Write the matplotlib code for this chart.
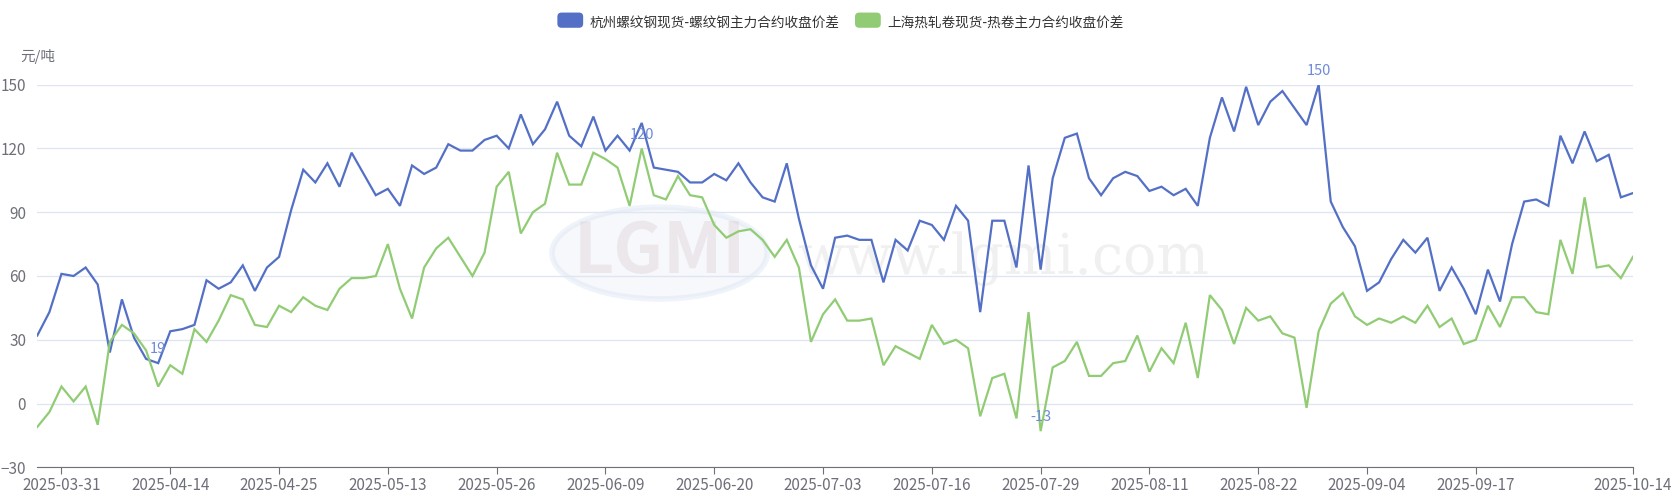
import numpy as np
import pandas as pd
import matplotlib
matplotlib.use("Agg")
import matplotlib.pyplot as plt
from matplotlib.patches import Patch, Ellipse, FancyBboxPatch
from matplotlib.legend_handler import HandlerPatch

plt.rcParams['font.family'] = ['Noto Sans CJK SC', 'DejaVu Sans']

# trading calendar (China, 2025)
holidays = ["2025-04-04", "2025-05-01", "2025-05-02", "2025-05-05", "2025-06-02",
            "2025-10-01", "2025-10-02", "2025-10-03", "2025-10-06", "2025-10-07", "2025-10-08"]
days = pd.bdate_range("2025-03-27", "2025-10-14")
days = days[~days.isin(pd.to_datetime(holidays))]
dates = [d.strftime("%Y-%m-%d") for d in days]

rebar = [32, 43, 61, 60, 64, 56, 24, 49, 31, 21, 19, 34, 35, 37, 58, 54, 57, 65, 53, 64,
         69, 91, 110, 104, 113, 102, 118, 108, 98, 101, 93, 112, 108, 111, 122, 119, 119, 124, 126, 120,
         136, 122, 129, 142, 126, 121, 135, 119, 126, 119, 132, 111, 110, 109, 104, 104, 108, 105, 113, 104,
         97, 95, 113, 87, 65, 54, 78, 79, 77, 77, 57, 77, 72, 86, 84, 77, 93, 86, 43, 86,
         86, 64, 112, 63, 106, 125, 127, 106, 98, 106, 109, 107, 100, 102, 98, 101, 93, 125, 144, 128,
         149, 131, 142, 147, 139, 131, 150, 95, 83, 74, 53, 57, 68, 77, 71, 78, 53, 64, 54, 42,
         63, 48, 75, 95, 96, 93, 126, 113, 128, 114, 117, 97, 99]

hrc = [-11, -4, 8, 1, 8, -10, 29, 37, 33, 25, 8, 18, 14, 35, 29, 39, 51, 49, 37, 36,
       46, 43, 50, 46, 44, 54, 59, 59, 60, 75, 54, 40, 64, 73, 78, 69, 60, 71, 102, 109,
       80, 90, 94, 118, 103, 103, 118, 115, 111, 93, 120, 98, 96, 107, 98, 97, 84, 78, 81, 82,
       77, 69, 77, 64, 29, 42, 49, 39, 39, 40, 18, 27, 24, 21, 37, 28, 30, 26, -6, 12,
       14, -7, 43, -13, 17, 20, 29, 13, 13, 19, 20, 32, 15, 26, 19, 38, 12, 51, 44, 28,
       45, 39, 41, 33, 31, -2, 34, 47, 52, 41, 37, 40, 38, 41, 38, 46, 36, 40, 28, 30,
       46, 36, 50, 50, 43, 42, 77, 61, 97, 64, 65, 59, 69]

names = ["杭州螺纹钢现货-螺纹钢主力合约收盘价差", "上海热轧卷现货-热卷主力合约收盘价差"]
colors = ["#5470c6", "#91cc75"]
label_color = "#6f8bd8"
axis_color = "#6e7079"


class RoundBox(HandlerPatch):
    def create_artists(self, legend, orig, xd, yd, width, height, fontsize, trans):
        h = height * 1.25
        p = FancyBboxPatch((xd + 1, yd - (h - height) / 2), width - 2, h,
                           boxstyle="round,pad=0,rounding_size=3",
                           facecolor=orig.get_facecolor(), edgecolor="none", transform=trans)
        return [p]


x = np.arange(len(dates))

fig = plt.figure(figsize=(16.8, 5.04), dpi=100)
ax = fig.add_axes([0.0222, 0.0728, 0.9498, 0.7592])

# faint watermark
ax.add_patch(Ellipse((0.39, 0.56), 0.135, 0.24, transform=ax.transAxes,
                     facecolor="#e6ecf6", edgecolor="#d3def1", lw=4, alpha=0.35, zorder=0))
ax.text(0.39, 0.56, "LGMI", transform=ax.transAxes, ha="center", va="center",
        fontsize=50, color="#d0b8b8", alpha=0.25, fontweight="bold", zorder=0)
ax.text(0.605, 0.545, "www.lgmi.com", transform=ax.transAxes, ha="center", va="center",
        fontsize=40, color="#cccccc", alpha=0.28, family="DejaVu Serif", zorder=0)

for ys, c in zip([rebar, hrc], colors):
    ax.plot(x, ys, color=c, lw=1.6, zorder=3, solid_joinstyle="miter")

# max / min labels
for ys, fn in [(rebar, np.argmax), (rebar, np.argmin), (hrc, np.argmax), (hrc, np.argmin)]:
    i = int(fn(ys))
    ax.annotate(str(ys[i]), (x[i], ys[i]), xytext=(0, 5), textcoords="offset points",
                ha="center", va="bottom", fontsize=10.5, color=label_color, zorder=4)

ax.set_xlim(0, len(dates) - 1)
ax.set_ylim(-30, 150)
ax.set_yticks(range(-30, 151, 30))
ticks = list(range(2, len(dates) - 9, 9)) + [len(dates) - 1]
ax.set_xticks(ticks)
ax.set_xticklabels([dates[i] for i in ticks])
ax.tick_params(axis="x", colors=axis_color, labelsize=11, length=5, pad=2)
ax.tick_params(axis="y", colors=axis_color, labelsize=11, length=0, pad=8)
ax.grid(axis="y", color="#e0e6f1", lw=1)
ax.set_axisbelow(True)
for s in ["top", "right", "left"]:
    ax.spines[s].set_visible(False)
ax.spines["bottom"].set_color(axis_color)

fig.text(0.012, 0.888, "元/吨", fontsize=10.5, color=axis_color, ha="left", va="center")

handles = [Patch(facecolor=c, edgecolor=c) for c in colors]
fig.legend(handles, names, loc="center", bbox_to_anchor=(0.5, 0.953), ncol=2, frameon=False,
           fontsize=9.8, labelcolor="#333333", handlelength=2.1, handleheight=1.0,
           handletextpad=0.4, columnspacing=1.0, handler_map={Patch: RoundBox()})

fig.savefig("out.png", dpi=100)
